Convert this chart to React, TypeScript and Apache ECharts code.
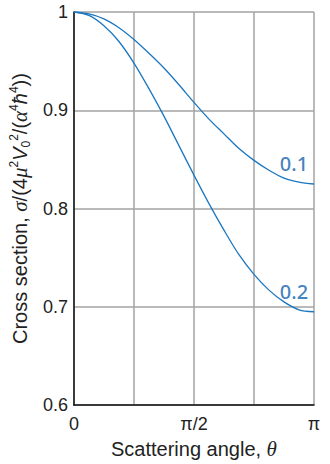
import React, { useEffect, useRef } from "react";
import * as echarts from "echarts";

// Scattering angle in units of pi
const thetaOverPi = [0, 0.0625, 0.125, 0.1875, 0.25, 0.3125, 0.375, 0.4375, 0.5, 0.5625, 0.625, 0.6875, 0.75, 0.8125, 0.875, 0.9375, 1];
// Normalised cross section for parameter 0.1
const sigma01 = [1, 0.998, 0.993, 0.984, 0.972, 0.958, 0.943, 0.926, 0.908, 0.891, 0.876, 0.861, 0.849, 0.839, 0.831, 0.827, 0.825];
// Normalised cross section for parameter 0.2
const sigma02 = [1, 0.9965, 0.986, 0.97, 0.948, 0.922, 0.894, 0.864, 0.834, 0.805, 0.778, 0.753, 0.733, 0.717, 0.705, 0.697, 0.695];
const curveNames = ["0.1", "0.2"];
const xTickValues = [0, 0.5, 1];
const xTickTexts = ["0", "π/2", "π"];
const labelIndex = 15;

const LINE = "#1b77c0";
const LABEL = "#0f62ad";
const GRID = "#a3a3a3";
const TXT = "#222";
const SANS = "'Liberation Sans', Arial, Helvetica, sans-serif";
const SERIF = "'Liberation Serif', 'Times New Roman', serif";

export default function App() {
  const ref = useRef<HTMLDivElement>(null);
  useEffect(() => {
    if (!ref.current) return;
    const chart = echarts.init(ref.current, undefined, { renderer: "svg" });
    const LH = 24;
    const sup = { fontSize: 12, verticalAlign: "top", lineHeight: LH, fontFamily: SANS, color: TXT };
    const sub = { fontSize: 12, verticalAlign: "bottom", lineHeight: LH, fontFamily: SANS, color: TXT };
    const greek = { fontSize: 21, fontStyle: "italic", fontFamily: SERIF, lineHeight: LH, color: TXT };
    const ital = { fontSize: 20, fontStyle: "italic", fontFamily: SANS, lineHeight: LH, color: TXT };
    const lines = [sigma01, sigma02].map((vals, k) => ({
      type: "line",
      name: curveNames[k],
      data: thetaOverPi.map((t, i) => [t, vals[i]]),
      smooth: 0.3,
      showSymbol: false,
      symbol: "none",
      lineStyle: { color: LINE, width: 1.3 },
      z: 3,
    }));
    const labels = [sigma01, sigma02].map((vals, k) => ({
      type: "scatter",
      name: curveNames[k] + " label",
      data: [[thetaOverPi[labelIndex], vals[labelIndex]]],
      symbol: "circle",
      symbolSize: 1,
      itemStyle: { color: "rgba(0,0,0,0)" },
      silent: true,
      label: {
        show: true,
        formatter: curveNames[k],
        position: "top",
        distance: 5,
        offset: [-5, -3],
        color: LABEL,
        fontSize: 20,
        fontWeight: 500,
        fontFamily: "'Noto Sans', 'Open Sans', sans-serif",
      },
      z: 4,
    }));
    chart.setOption({
      animation: false,
      grid: { left: 72, right: 16, top: 12, bottom: 52, containLabel: false },
      xAxis: {
        type: "value",
        min: 0,
        max: 1,
        interval: 0.25,
        axisLine: { show: true, onZero: false, lineStyle: { color: "#111", width: 1.5 } },
        axisTick: { show: false },
        splitLine: { show: true, lineStyle: { color: GRID, width: 1.5 } },
        axisLabel: {
          margin: 10,
          fontSize: 18,
          fontFamily: SANS,
          color: TXT,
          formatter: (v: number) => {
            const i = xTickValues.findIndex((t) => Math.abs(t - v) < 1e-6);
            return i >= 0 ? xTickTexts[i] : "";
          },
        },
        name: "{n|Scattering angle, }{g|θ}",
        nameLocation: "middle",
        nameGap: 24,
        nameTextStyle: {
          fontSize: 20,
          fontFamily: SANS,
          color: TXT,
          rich: {
            n: { fontSize: 20, fontFamily: SANS, color: TXT },
            g: { fontSize: 21, fontStyle: "italic", fontFamily: SERIF, color: TXT },
          },
        },
      },
      yAxis: {
        type: "value",
        min: 0.6,
        max: 1,
        interval: 0.1,
        axisLine: { show: true, lineStyle: { color: "#111", width: 1.5 } },
        axisTick: { show: false },
        splitLine: { show: true, lineStyle: { color: GRID, width: 1.5 } },
        axisLabel: {
          margin: 6,
          fontSize: 18,
          fontFamily: SANS,
          color: TXT,
          formatter: (v: number) => String(Number(v.toFixed(1))),
        },
        name:
          "{n|Cross section, }{g|σ}{n|/(4}{g|μ}{s|2}{i|V}{b|0}{s|2}{n|/(}{g|α}{s|4}{i|ħ}{s|4}{n|))}",
        nameLocation: "middle",
        nameRotate: 90,
        nameGap: 35,
        nameTextStyle: {
          fontSize: 20,
          fontFamily: SANS,
          color: TXT,
          rich: {
            n: { fontSize: 20, fontFamily: SANS, lineHeight: LH, color: TXT },
            g: greek,
            i: ital,
            s: sup,
            b: sub,
          },
        },
      },
      series: [...lines, ...labels],
    });
    return () => chart.dispose();
  }, []);
  return (
    <div
      ref={ref}
      style={{ position: "fixed", left: 0, top: 0, width: 330, height: 464, background: "#fff" }}
    />
  );
}
